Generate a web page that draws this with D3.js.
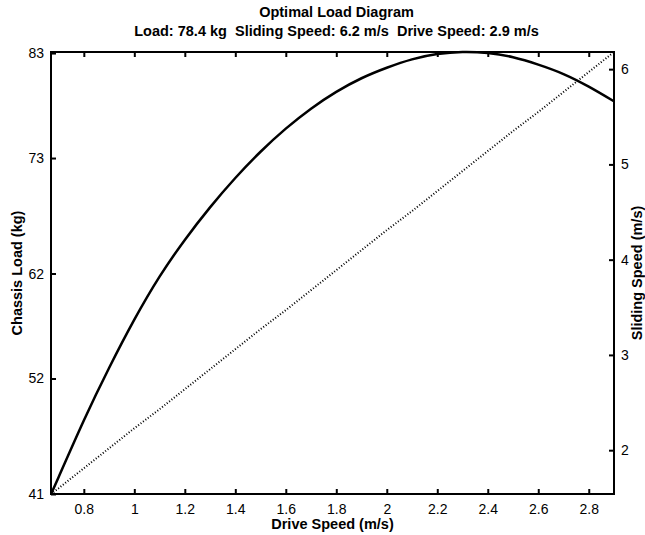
<!DOCTYPE html>
<html>
<head>
<meta charset="utf-8">
<script src="https://cdn.jsdelivr.net/npm/d3@7"></script>
<style>
  body { margin: 0; background: #fff; }
  svg text { font-family: "Liberation Sans", Arial, sans-serif; fill: #000; }
</style>
</head>
<body>
<svg id="chart" width="645" height="535"></svg>
<script>
// values
const driveSpeed = [0.67, 0.7, 0.8, 0.9, 1.0, 1.1, 1.2, 1.3, 1.4, 1.5, 1.6, 1.7,
                    1.8, 1.9, 2.0, 2.1, 2.2, 2.3, 2.4, 2.5, 2.6, 2.7, 2.8, 2.9]
const chassisLoad = [41.0, 42.6, 48.0, 53.0, 57.6, 61.7, 65.2, 68.3, 71.1, 73.6, 75.8, 77.7,
                     79.3, 80.6, 81.6, 82.4, 82.9, 83.1, 83.0, 82.6, 81.9, 81.0, 79.8, 78.4]
const slidingSpeed = [1.54, 1.60, 1.81, 2.02, 2.23, 2.43, 2.64, 2.85, 3.06, 3.27, 3.47, 3.68,
                      3.89, 4.10, 4.31, 4.51, 4.72, 4.93, 5.14, 5.35, 5.55, 5.76, 5.97, 6.18]
const xTicks = [0.8, 1, 1.2, 1.4, 1.6, 1.8, 2, 2.2, 2.4, 2.6, 2.8]
const loadTicks = [41, 52, 62, 73, 83]
const slideTicks = [2, 3, 4, 5, 6]
const titleLines = ['Optimal Load Diagram',
                    'Load: 78.4 kg  Sliding Speed: 6.2 m/s  Drive Speed: 2.9 m/s']

const plot = { left: 51, right: 614, top: 52, bottom: 494 }
const svg = d3.select('#chart')

const x = d3.scaleLinear().domain([0.67, 2.9]).range([plot.left, plot.right])
const yL = d3.scaleLinear().domain([41, 83.1]).range([plot.bottom, plot.top])
const yR = d3.scaleLinear().domain([1.54, 6.18]).range([plot.bottom, plot.top])

function styleAxis(g) {
    g.select('.domain').remove()
    g.selectAll('.tick line').attr('stroke', '#000').attr('stroke-width', 2)
    g.selectAll('.tick text').attr('font-size', 14)
}

// bottom axis, ticks inward
svg.append('g')
    .attr('transform', `translate(0,${plot.bottom})`)
    .call(d3.axisBottom(x).tickValues(xTicks).tickSize(-5).tickPadding(10)
        .tickFormat(d3.format('~g')))
    .call(styleAxis)
// top mirror ticks
svg.append('g')
    .attr('transform', `translate(0,${plot.top})`)
    .call(d3.axisTop(x).tickValues(xTicks).tickSize(-5).tickFormat(''))
    .call(styleAxis)
// left axis
svg.append('g')
    .attr('transform', `translate(${plot.left},0)`)
    .call(d3.axisLeft(yL).tickValues(loadTicks).tickSize(-5).tickPadding(7)
        .tickFormat(d3.format('d')))
    .call(styleAxis)
// right axis
svg.append('g')
    .attr('transform', `translate(${plot.right},0)`)
    .call(d3.axisRight(yR).tickValues(slideTicks).tickSize(-5).tickPadding(7)
        .tickFormat(d3.format('d')))
    .call(styleAxis)

// box
svg.append('rect')
    .attr('x', plot.left).attr('y', plot.top)
    .attr('width', plot.right - plot.left).attr('height', plot.bottom - plot.top)
    .attr('fill', 'none').attr('stroke', '#000').attr('stroke-width', 2)

svg.append('defs').append('clipPath').attr('id', 'clip')
    .append('rect')
    .attr('x', plot.left).attr('y', plot.top - 2)
    .attr('width', plot.right - plot.left + 1).attr('height', plot.bottom - plot.top + 3)

const rows = driveSpeed.map((v, i) => ({ v: v, load: chassisLoad[i], slide: slidingSpeed[i] }))

svg.append('path')
    .datum(rows)
    .attr('clip-path', 'url(#clip)')
    .attr('fill', 'none').attr('stroke', '#000').attr('stroke-width', 2)
    .attr('stroke-dasharray', '1,2')
    .attr('d', d3.line().x(d => x(d.v)).y(d => yR(d.slide)))

svg.append('path')
    .datum(rows)
    .attr('clip-path', 'url(#clip)')
    .attr('fill', 'none').attr('stroke', '#000').attr('stroke-width', 2.5)
    .attr('stroke-linejoin', 'round')
    .attr('d', d3.line().curve(d3.curveNatural).x(d => x(d.v)).y(d => yL(d.load)))

// titles
const cx = (plot.left + plot.right) / 2
svg.append('text').attr('x', cx + 4).attr('y', 17).attr('text-anchor', 'middle')
    .style('white-space', 'pre')
    .attr('font-size', 14.5).attr('font-weight', 'bold').text(titleLines[0])
svg.append('text').attr('x', cx + 4).attr('y', 36).attr('text-anchor', 'middle')
    .style('white-space', 'pre')
    .attr('font-size', 14.5).attr('font-weight', 'bold').text(titleLines[1])

svg.append('text').attr('x', cx).attr('y', 529).attr('text-anchor', 'middle')
    .attr('font-size', 14.5).attr('font-weight', 'bold').text('Drive Speed (m/s)')

const cy = (plot.top + plot.bottom) / 2
svg.append('text')
    .attr('transform', `translate(22,${cy}) rotate(-90)`)
    .attr('text-anchor', 'middle')
    .attr('font-size', 14.5).attr('font-weight', 'bold').text('Chassis Load (kg)')
svg.append('text')
    .attr('transform', `translate(642,${cy}) rotate(-90)`)
    .attr('text-anchor', 'middle')
    .attr('font-size', 14.5).attr('font-weight', 'bold').text('Sliding Speed (m/s)')
</script>
</body>
</html>
